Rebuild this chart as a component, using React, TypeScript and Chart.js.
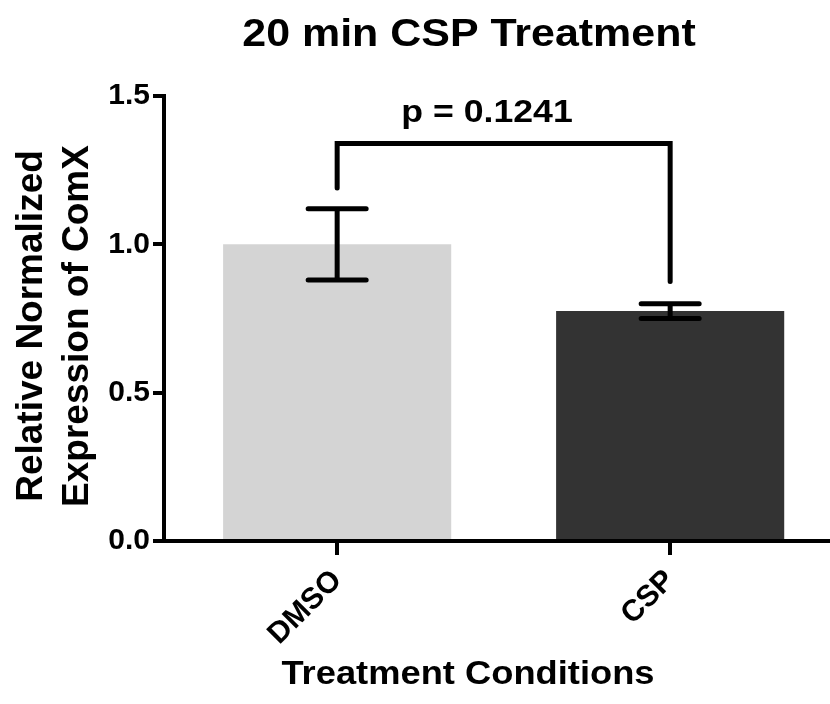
import { useEffect, useRef } from 'react';
import { Chart, registerables } from 'chart.js';

Chart.register(...registerables);

const categories = ['DMSO', 'CSP'];
const means = [1.0, 0.775];
const errors = [0.12, 0.025];
const barColors = ['#d4d4d4', '#333333'];
const yTicks = [0, 0.5, 1.0, 1.5];
const pLabel = 'p = 0.1241';
const bracketTop = 1.34;
const bracketLegEnds = [1.19, 0.875];
const titleText = '20 min CSP Treatment';
const yTitleLines = ['Relative Normalized', 'Expression of ComX'];
const xTitleText = 'Treatment Conditions';

const ARIAL = '"Liberation Sans", Arial, sans-serif';

function wideText(ctx: any, text: string, cx: number, baseline: number, size: number, sx: number) {
  ctx.save();
  ctx.font = `bold ${size}px ${ARIAL}`;
  ctx.textAlign = 'center';
  ctx.textBaseline = 'alphabetic';
  ctx.translate(cx, baseline);
  ctx.scale(sx, 1);
  ctx.fillText(text, 0, 0);
  ctx.restore();
}

const overlay = {
  id: 'overlay',
  afterDatasetsDraw(chart: any) {
    const ctx = chart.ctx;
    const xs = chart.scales.x;
    const ys = chart.scales.y;
    ctx.save();
    ctx.strokeStyle = '#000';
    ctx.lineWidth = 5;
    ctx.lineCap = 'round';
    means.forEach((m, i) => {
      const cx = xs.getPixelForValue(i);
      const top = ys.getPixelForValue(m + errors[i]);
      const bot = ys.getPixelForValue(m - errors[i]);
      const hw = 29;
      ctx.beginPath();
      ctx.moveTo(cx, top);
      ctx.lineTo(cx, bot);
      ctx.moveTo(cx - hw, top);
      ctx.lineTo(cx + hw, top);
      ctx.moveTo(cx - hw, bot);
      ctx.lineTo(cx + hw, bot);
      ctx.stroke();
    });
    const x0 = xs.getPixelForValue(0);
    const x1 = xs.getPixelForValue(1);
    const yb = ys.getPixelForValue(bracketTop);
    ctx.beginPath();
    ctx.moveTo(x0, ys.getPixelForValue(bracketLegEnds[0]));
    ctx.lineTo(x0, yb);
    ctx.lineTo(x1, yb);
    ctx.lineTo(x1, ys.getPixelForValue(bracketLegEnds[1]));
    ctx.stroke();
    ctx.fillStyle = '#000';
    wideText(ctx, pLabel, 487, 122, 31, 1.15);
    ctx.restore();
  },
  afterDraw(chart: any) {
    const ctx = chart.ctx;
    ctx.save();
    ctx.fillStyle = '#000';
    wideText(ctx, titleText, 469, 46, 38, 1.13);
    wideText(ctx, xTitleText, 468, 684, 33, 1.1);
    ctx.font = `bold 37px ${ARIAL}`;
    ctx.textAlign = 'center';
    ctx.textBaseline = 'alphabetic';
    const baseXs = [42, 88];
    yTitleLines.forEach((line, i) => {
      ctx.save();
      ctx.translate(baseXs[i], 326);
      ctx.rotate(-Math.PI / 2);
      ctx.fillText(line, 0, 0);
      ctx.restore();
    });
    ctx.restore();
  },
};

export default function App() {
  const ref = useRef<HTMLCanvasElement>(null);
  useEffect(() => {
    const canvas = ref.current;
    if (!canvas) return;
    const chart = new Chart(canvas, {
      type: 'bar',
      data: {
        datasets: [
          {
            data: means.map((m, i) => ({ x: i, y: m })),
            backgroundColor: barColors,
            borderWidth: 0,
            categoryPercentage: 1,
            barPercentage: 0.685,
          },
        ],
      },
      options: {
        animation: false,
        responsive: false,
        devicePixelRatio: 1,
        layout: { padding: { top: 96, right: 0, left: 0, bottom: 0 } },
        plugins: {
          legend: { display: false },
          tooltip: { enabled: false },
          title: { display: false },
        },
        scales: {
          x: {
            type: 'linear',
            min: -0.52,
            max: 1.48,
            offset: false,
            afterFit: (s: any) => {
              s.height = 163;
            },
            afterBuildTicks: (s: any) => {
              s.ticks = categories.map((_, i) => ({ value: i }));
            },
            ticks: {
              autoSkip: false,
              maxRotation: 45,
              minRotation: 45,
              padding: 8,
              color: '#000',
              font: { family: ARIAL, size: 30, weight: 'bold' },
              callback: (v: any) => categories[v] ?? '',
            },
            grid: {
              offset: false,
              drawOnChartArea: false,
              drawTicks: true,
              tickLength: 14,
              lineWidth: 4,
              color: '#000',
            },
            border: { display: true, width: 4, color: '#000' },
          },
          y: {
            type: 'linear',
            min: 0,
            max: 1.5,
            afterFit: (s: any) => {
              s.width = 164;
            },
            afterBuildTicks: (s: any) => {
              s.ticks = yTicks.map((v) => ({ value: v }));
            },
            ticks: {
              padding: 3,
              color: '#000',
              font: { family: ARIAL, size: 30, weight: 'bold' },
              callback: (v: any) => Number(v).toFixed(1),
            },
            grid: {
              drawOnChartArea: false,
              drawTicks: true,
              tickLength: 11,
              lineWidth: 4,
              color: '#000',
            },
            border: { display: true, width: 4, color: '#000' },
          },
        },
      },
      plugins: [overlay],
    });
    return () => chart.destroy();
  }, []);
  return (
    <div style={{ position: 'fixed', left: 0, top: 0, width: 830, height: 704, background: '#fff' }}>
      <canvas ref={ref} width={830} height={704} style={{ width: 830, height: 704, display: 'block' }} />
    </div>
  );
}
